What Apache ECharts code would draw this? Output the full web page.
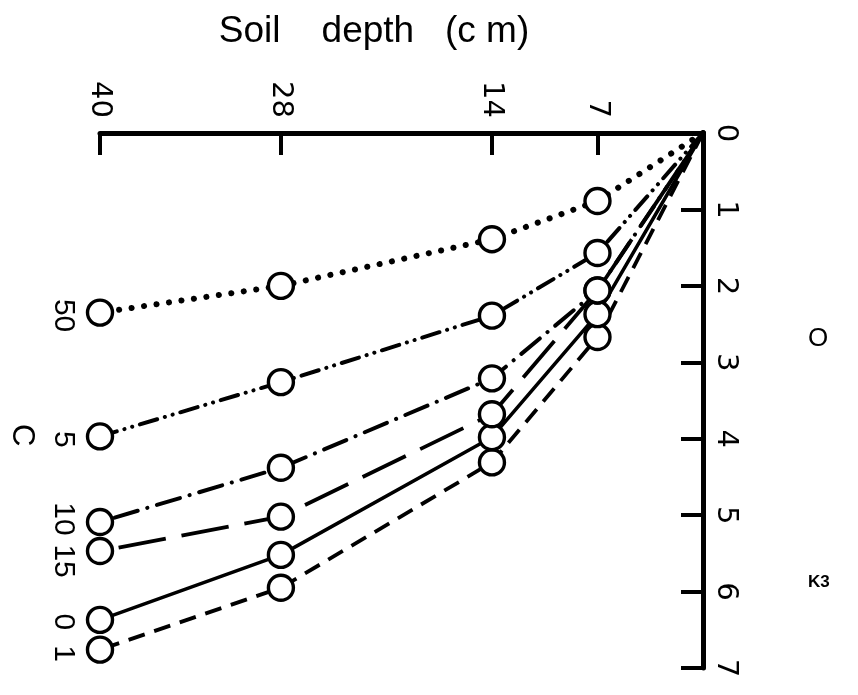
<!DOCTYPE html>
<html>
<head>
<meta charset="utf-8">
<script src="https://cdn.jsdelivr.net/npm/echarts@6/dist/echarts.min.js"></script>
<style>
  html, body { margin: 0; padding: 0; background: #fff; }
  #chart { width: 858px; height: 695px; }
</style>
</head>
<body>
<div id="chart"></div>
<script>
// Soil depth (cm) along the top axis, value along the right axis.
const depths = [0, 7, 14, 28, 40];
const depthTicks = [7, 14, 28, 40];
const valueTicks = [0, 1, 2, 3, 4, 5, 6, 7];

const seriesNames = ['50', '5', '10', '15', '0', '1'];
const s50 = [0, 0.89, 1.39, 2.00, 2.35];
const s5  = [0, 1.57, 2.39, 3.26, 3.97];
const s10 = [0, 2.06, 3.21, 4.38, 5.09];
const s15 = [0, 2.06, 3.68, 5.02, 5.47];
const s0  = [0, 2.37, 3.98, 5.52, 6.37];
const s1  = [0, 2.67, 4.31, 5.95, 6.76];
const seriesValues = [s50, s5, s10, s15, s0, s1];

// line dash patterns, widths and caps per series
const dashes = [
  [0.1, 12.5],               // dotted
  [18, 8, 0.1, 8, 0.1, 8],   // dash-dot-dot
  [24, 10, 0.1, 10],         // dash-dot
  [48, 16],                  // long dash
  'solid',
  [17, 10]                   // short dash
];
const widths = [6, 4, 4, 3.8, 3.5, 3.8];
const caps = ['round', 'round', 'round', 'butt', 'butt', 'butt'];
// label shift along the rotated text direction (screen down)
const labelShift = [3, 3, -3, 10, 2, 4];

const FONT = 'Liberation Sans';
const DIGIT_FONT = 'DejaVu Sans';

const chart = echarts.init(document.getElementById('chart'), null, { renderer: 'canvas' });

const series = seriesNames.map((name, i) => ({
  name: name,
  type: 'line',
  smooth: false,
  symbol: 'circle',
  symbolSize: 25,
  z: 10 - i,
  lineStyle: { color: '#000', width: widths[i], type: dashes[i], cap: caps[i] },
  itemStyle: { color: '#fff', borderColor: '#000', borderWidth: 3.4 },
  emphasis: { disabled: true },
  data: depths.map((d, j) => {
    const p = { value: [d, seriesValues[i][j]] };
    if (j === 0) p.symbol = 'none';
    if (j === depths.length - 1) {
      p.label = {
        show: true,
        formatter: name,
        position: 'left',
        distance: 23,
        rotate: -90,
        align: 'center',
        verticalAlign: 'middle',
        offset: [labelShift[i], 0],
        color: '#000',
        fontFamily: FONT,
        fontSize: 30
      };
    }
    return p;
  })
}));

chart.setOption({
  animation: false,
  backgroundColor: '#fff',
  title: {
    text: 'Soil    depth   (c m)',
    left: 369,
    top: 8,
    textAlign: 'center',
    textStyle: { fontFamily: FONT, fontSize: 37, fontWeight: 'normal', color: '#000' }
  },
  grid: { left: 100, right: 155, top: 133, bottom: 27 },
  xAxis: {
    type: 'value',
    position: 'top',
    inverse: true,
    min: 0,
    max: 40,
    splitLine: { show: false },
    axisLine: { show: true, lineStyle: { color: '#000', width: 5 } },
    axisTick: { show: true, inside: true, length: 22, lineStyle: { color: '#000', width: 4 }, customValues: depthTicks },
    axisLabel: {
      show: true, customValues: depthTicks, rotate: -90, margin: 15,
      color: '#000', fontFamily: DIGIT_FONT, fontSize: 29
    }
  },
  yAxis: {
    type: 'value',
    position: 'right',
    inverse: true,
    min: 0,
    max: 7,
    interval: 1,
    splitLine: { show: false },
    axisLine: { show: true, lineStyle: { color: '#000', width: 5 } },
    axisTick: { show: true, inside: true, length: 22, lineStyle: { color: '#000', width: 4 }, customValues: valueTicks.slice(1) },
    axisLabel: {
      show: true, rotate: -90, margin: 8, customValues: valueTicks,
      color: '#000', fontFamily: DIGIT_FONT, fontSize: 29
    }
  },
  graphic: [
    { type: 'text', left: 6, top: 424, rotation: -Math.PI / 2,
      style: { text: 'C', fontFamily: FONT, fontSize: 31, fill: '#000' } },
    { type: 'text', left: 808, top: 326,
      style: { text: 'O', fontFamily: FONT, fontSize: 26, fill: '#000' } },
    { type: 'text', left: 808, top: 574,
      style: { text: 'K3', fontFamily: FONT, fontSize: 17, fontWeight: 'bold', fill: '#000' } }
  ],
  series: series
});
</script>
</body>
</html>
